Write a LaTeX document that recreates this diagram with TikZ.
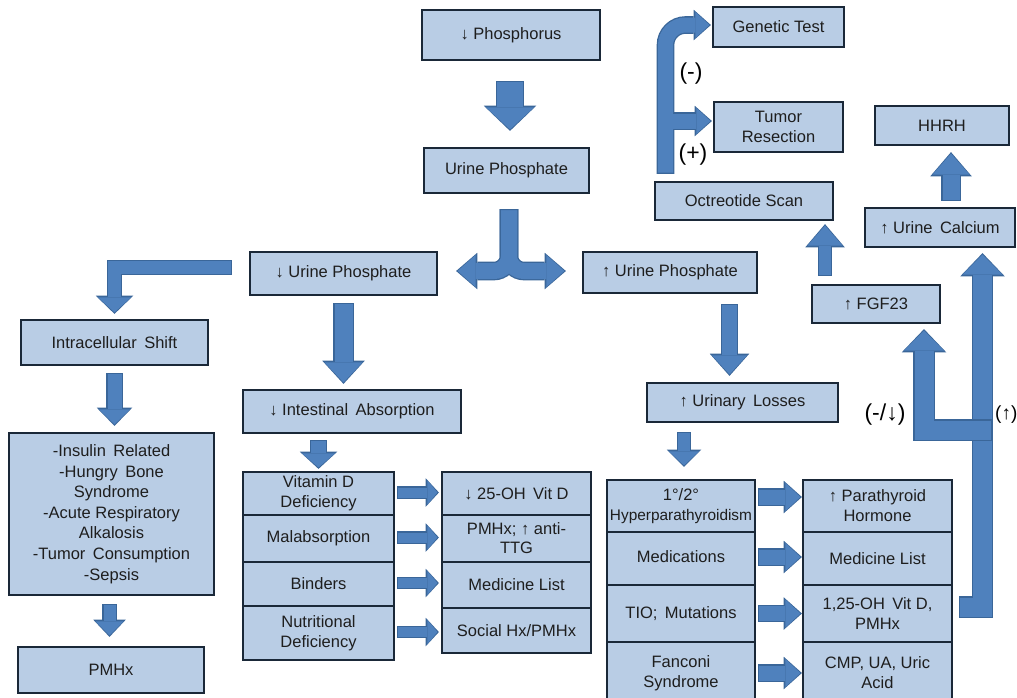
\documentclass[tikz,border=0pt]{standalone}
\usepackage{fontspec}
\setmainfont{Liberation Sans}
\usetikzlibrary{arrows.meta}
\definecolor{boxfill}{HTML}{B9CDE5}
\definecolor{boxedge}{HTML}{1A2838}
\definecolor{arfill}{HTML}{4F81BD}
\definecolor{aredge}{HTML}{3A6699}
\definecolor{txt}{HTML}{1E1E1E}
\newcommand\wsp{\hspace{0.45em}}
\newcommand\fs{\fontsize{16.5}{20}\selectfont}
\newcommand\blkout[4]{\pgfmathsetmacro\tmpa{#1+2.6}\pgfmathsetmacro\tmpb{#2+4.5}\pgfmathsetmacro\tmpc{#3+3.2}%
 \draw[aredge, line width=\tmpa pt, line join=miter, -{Triangle[width=\tmpb pt,length=\tmpc pt,line width=0pt]}] #4;}
\newcommand\blkin[4]{\draw[arfill, line width=#1pt, line join=miter, shorten >=1.5pt, shorten <=1.3pt, -{Triangle[width=#2pt,length=#3pt,line width=0pt]}] #4;}
\newcommand\blk[4]{\blkout{#1}{#2}{#3}{#4}\blkin{#1}{#2}{#3}{#4}}
\tikzset{
 box/.style={draw=boxedge, fill=boxfill, line width=2.2pt, inner sep=1pt, align=center, text=txt, font=\fs},
 lbl/.style={text=black, font=\fontsize{23}{25}\selectfont, inner sep=0pt}
}
\begin{document}
\begin{tikzpicture}[x=1pt,y=-1pt]
\useasboundingbox (0,0) rectangle (1017,697);
\clip (0,0) rectangle (1017,697);
% ---------- boxes ----------
\node[box, minimum width=178pt, minimum height=50pt] (phos) at (511,35) {↓ Phosphorus};
\node[box, minimum width=165pt, minimum height=45pt] (uph) at (506.5,170.5) {Urine Phosphate};
\node[box, minimum width=187pt, minimum height=43pt] (lup) at (343.5,273.5) {↓ Urine Phosphate};
\node[box, minimum width=174pt, minimum height=41pt] (hup) at (670,272.5) {↑ Urine Phosphate};
\node[box, minimum width=131pt, minimum height=40pt] (gen) at (778.5,27) {Genetic Test};
\node[box, minimum width=129pt, minimum height=50pt] (tum) at (778.5,127) {Tumor\\Resection};
\node[box, minimum width=134pt, minimum height=39pt] (hhrh) at (942,125.5) {HHRH};
\node[box, minimum width=178pt, minimum height=38pt] (oct) at (744,201) {Octreotide Scan};
\node[box, minimum width=150pt, minimum height=39pt] (uca) at (940,227.5) {↑ Urine\wsp Calcium};
\node[box, minimum width=128pt, minimum height=38pt] (fgf) at (876,304) {↑ FGF23};
\node[box, minimum width=187pt, minimum height=45pt] (intra) at (114.5,342.5) {Intracellular\wsp Shift};
\node[box, minimum width=218pt, minimum height=43pt] (intest) at (352,411.5) {↓ Intestinal\wsp Absorption};
\node[box, minimum width=191pt, minimum height=39pt] (uloss) at (742.5,402.5) {↑ Urinary\wsp Losses};
\node[box, minimum width=205pt, minimum height=162pt, font=\fontsize{16.5}{20.6}\selectfont] (list) at (111.5,514)
  {-Insulin\wsp Related\\-Hungry\wsp Bone\\Syndrome\\-Acute Respiratory\\Alkalosis\\-Tumor\wsp Consumption\\-Sepsis};
\node[box, minimum width=186pt, minimum height=46pt] (pmhx) at (111,670) {PMHx};
% left stack
\node[box, minimum width=151pt, minimum height=43pt] (ls1) at (318.5,493.5) {Vitamin D\\Deficiency};
\node[box, minimum width=151pt, minimum height=47pt] (ls2) at (318.5,538.5) {Malabsorption};
\node[box, minimum width=151pt, minimum height=44pt] (ls3) at (318.5,584) {Binders};
\node[box, minimum width=151pt, minimum height=54pt] (ls4) at (318.5,633) {Nutritional\\Deficiency};
% middle stack
\node[box, minimum width=149pt, minimum height=43pt] (ms1) at (516.5,493.5) {↓ 25-OH\wsp Vit D};
\node[box, minimum width=149pt, minimum height=47pt, font=\fontsize{16.5}{19}\selectfont] (ms2) at (516.5,538.5) {PMHx; ↑ anti-\\TTG};
\node[box, minimum width=149pt, minimum height=46pt] (ms3) at (516.5,585) {Medicine List};
\node[box, minimum width=149pt, minimum height=45pt] (ms4) at (516.5,630.5) {Social Hx/PMHx};
% right-left stack
\node[box, minimum width=148pt, minimum height=52pt] (rl1) at (681,506) {1°/2°\\{\fontsize{15.4}{20}\selectfont Hyperparathyroidism}};
\node[box, minimum width=148pt, minimum height=53pt] (rl2) at (681,558.5) {\raisebox{4pt}{Medications}};
\node[box, minimum width=148pt, minimum height=57pt] (rl3) at (681,613.5) {TIO;\wsp Mutations};
\node[box, minimum width=148pt, minimum height=62pt] (rl4) at (681,673) {Fanconi\\Syndrome};
% right-right stack
\node[box, minimum width=149pt, minimum height=52pt] (rr1) at (877.5,506) {↑ Parathyroid\\Hormone};
\node[box, minimum width=149pt, minimum height=53pt] (rr2) at (877.5,558.5) {Medicine List};
\node[box, minimum width=149pt, minimum height=57pt] (rr3) at (877.5,613.5) {1,25-OH\wsp Vit D,\\PMHx};
\node[box, minimum width=149pt, minimum height=62pt] (rr4) at (877.5,673) {CMP, UA, Uric\\Acid};
% ---------- arrows ----------
% Phosphorus -> Urine Phosphate
\coordinate (a1t) at (phos.south |- uph.north);
\blk{26}{48}{22}{([xshift=-1pt,yshift=-20pt]phos.south) -- ([xshift=-1pt,yshift=16pt]a1t)}
% split arrow
\coordinate (sp) at ([xshift=2.5pt,yshift=-15pt]uph.south);
\blkout{16}{32}{18}{(sp) [rounded corners=15pt] |- ([xshift=18pt,yshift=2.5pt]lup.east)}
\blkout{16}{32}{18}{(sp) [rounded corners=15pt] |- ([xshift=-16pt,yshift=1.5pt]hup.west)}
\blkin{16}{32}{18}{(sp) [rounded corners=15pt] |- ([xshift=18pt,yshift=2.5pt]lup.east)}
\blkin{16}{32}{18}{(sp) [rounded corners=15pt] |- ([xshift=-16pt,yshift=1.5pt]hup.west)}
% lup -> intra (elbow)
\blk{13}{33}{15}{([xshift=-17pt,yshift=6pt]lup.west) -| ([yshift=5pt]intra.north)}
% intra -> list
\coordinate (a4t) at (intra.south |- list.north);
\blk{14}{31}{15}{([yshift=-7pt]intra.south) -- ([yshift=6pt]a4t)}
% list -> pmhx
\coordinate (a5t) at (list.south |- pmhx.north);
\blk{12}{28}{14}{([xshift=-2pt,yshift=-8pt]list.south) -- ([xshift=-2pt,yshift=9pt]a5t)}
% lup -> intest
\coordinate (a6t) at (lup.south |- intest.north);
\blk{18}{38}{20}{([yshift=-7pt]lup.south) -- ([yshift=5pt]a6t)}
% intest -> left stack
\coordinate (a7s) at (ls1.north |- intest.south);
\blk{15}{33}{14}{([yshift=-6pt]a7s) -- ([yshift=2pt]ls1.north)}
% left stack -> middle stack
\foreach \i in {1,2,3,4}{
  \coordinate (a8t\i) at (ls\i.east -| ms1.west);
  \blk{10}{24}{10}{([xshift=2pt,yshift=1pt]ls\i.east) -- ([xshift=-2pt,yshift=1pt]a8t\i)}
}
% hup -> uloss
\coordinate (a9s) at ([xshift=59.5pt,yshift=-10pt]hup.south);
\coordinate (a9t) at (a9s |- uloss.north);
\blk{15}{35}{19}{(a9s) -- ([yshift=6pt]a9t)}
% uloss -> right-left stack
\coordinate (a10t) at ([xshift=3pt]rl1.north);
\coordinate (a10s) at (a10t |- uloss.south);
\blk{12}{30}{14}{([yshift=-9pt]a10s) -- ([yshift=12pt]a10t)}
% right-left -> right-right
\foreach \i/\s in {1/9,2/1.5,3/0,4/0}{
  \coordinate (a11t\i) at (rl\i.east -| rr1.west);
  \blk{15}{28}{15}{([xshift=2pt,yshift=\s pt]rl\i.east) -- ([xshift=0pt,yshift=\s pt]a11t\i)}
}
% 1,25-OH -> Urine Calcium / FGF23
\node[lbl] (lm) at (885,415) {(-/↓)};
\node[lbl, anchor=west, font=\fontsize{19}{21}\selectfont] (lp) at (995,415) {(↑)};
\coordinate (r0) at ([xshift=6pt,yshift=6.5pt]rr3.east);
\coordinate (rtop) at ([xshift=42.5pt,yshift=-5pt]uca.south);
\coordinate (jn) at ([yshift=-15pt]rtop |- lp.west);
\coordinate (ftop) at ([xshift=48pt,yshift=-5pt]fgf.south);
\blk{19}{40}{20}{(r0) -| (rtop)}
\blk{19}{40}{20}{([xshift=9.5pt]jn) -| (ftop)}
% FGF23 -> Octreotide
\coordinate (a13s) at ([xshift=-51pt,yshift=8pt]fgf.north);
\coordinate (a13t) at (a13s |- oct.south);
\blk{12}{35}{20}{(a13s) -- ([yshift=-3pt]a13t)}
% Urine Calcium -> HHRH
\coordinate (a14s) at ([xshift=11pt,yshift=6pt]uca.north);
\coordinate (a14t) at (a14s |- hhrh.south);
\blk{17}{37}{21}{(a14s) -- ([yshift=-6pt]a14t)}
% Octreotide -> Genetic Test / Tumor Resection
\coordinate (ost) at ([xshift=-78.5pt,yshift=7pt]oct.north);
\coordinate (tb) at (ost |- tum.west);
\blkout{15}{26}{14}{(ost) [rounded corners=20pt] |- ([xshift=-1pt,yshift=2pt]gen.west)}
\blkout{15}{26}{14}{([yshift=6pt]tb) -- ([xshift=-1pt,yshift=6pt]tum.west)}
\blkin{15}{26}{14}{(ost) [rounded corners=20pt] |- ([xshift=-1pt,yshift=2pt]gen.west)}
\blkin{15}{26}{14}{([yshift=6pt]tb) -- ([xshift=-1pt,yshift=6pt]tum.west)}
\node[lbl] (lmi) at (691,74) {(-)};
\node[lbl] (lpl) at (693,155) {(+)};
\end{tikzpicture}
\end{document}
